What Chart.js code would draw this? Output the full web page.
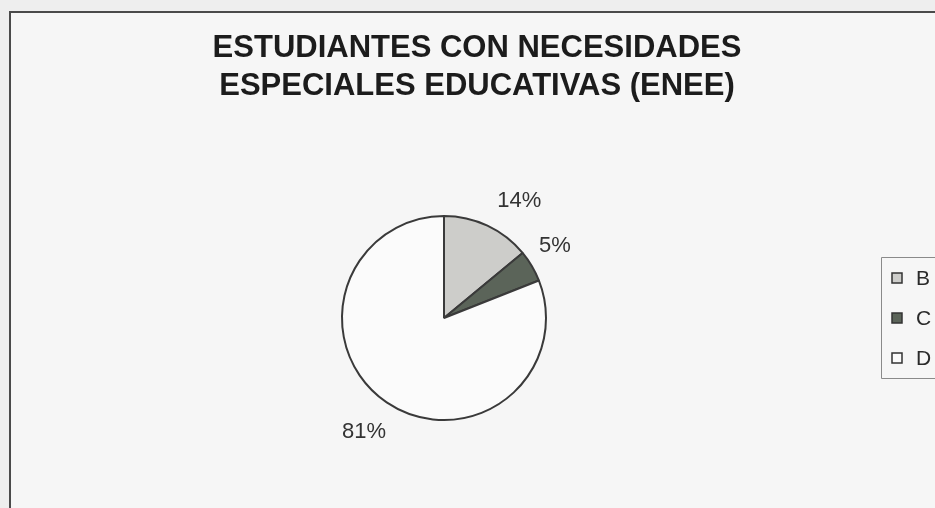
<!DOCTYPE html>
<html>
<head>
<meta charset="utf-8">
<script src="https://cdn.jsdelivr.net/npm/chart.js@4/dist/chart.umd.min.js"></script>
<style>
  html, body { margin: 0; padding: 0; background: #f3f3f3; }
  #wrap { width: 935px; height: 508px; }
</style>
</head>
<body>
<div id="wrap"><canvas id="c" width="935" height="508"></canvas></div>
<script>
const titleLines = ["ESTUDIANTES CON NECESIDADES", "ESPECIALES EDUCATIVAS (ENEE)"];
const categories = ["B", "C", "D"];
const values = [14, 5, 81];
const sliceColors = ["#cdcdca", "#5b6459", "#fbfbfb"];

const decor = {
  id: 'decor',
  beforeDraw(chart) {
    const ctx = chart.ctx;
    ctx.save();
    ctx.fillStyle = '#eeeeee';
    ctx.fillRect(0, 0, chart.width, chart.height);
    ctx.fillStyle = '#f6f6f6';
    ctx.fillRect(10, 12, chart.width - 10, chart.height - 12);
    ctx.strokeStyle = '#4a4a4a';
    ctx.lineWidth = 2;
    ctx.beginPath();
    ctx.moveTo(10, chart.height + 5);
    ctx.lineTo(10, 12);
    ctx.lineTo(chart.width + 5, 12);
    ctx.stroke();
    // title
    ctx.fillStyle = '#1c1c1c';
    ctx.font = 'bold 31px "Liberation Sans", Arial, sans-serif';
    ctx.textAlign = 'center';
    ctx.textBaseline = 'middle';
    ctx.fillText(titleLines[0], 477, 48);
    ctx.fillText(titleLines[1], 477, 86);
    ctx.restore();
  },
  afterDatasetsDraw(chart, args, opts) {
    const ctx = chart.ctx;
    const meta = chart.getDatasetMeta(0);
    const data = chart.data.datasets[0].data;
    const total = data.reduce((a, b) => a + b, 0);
    ctx.save();
    ctx.fillStyle = '#333333';
    ctx.font = '22px "Liberation Sans", Arial, sans-serif';
    ctx.textAlign = 'center';
    ctx.textBaseline = 'middle';
    meta.data.forEach((arc, i) => {
      const p = arc.getProps(['x', 'y', 'startAngle', 'endAngle', 'outerRadius'], true);
      const mid = (p.startAngle + p.endAngle) / 2;
      const d = p.outerRadius + 35;
      const nudge = opts.nudges[i] || {dx: 0, dy: 0};
      const lx = p.x + Math.cos(mid) * d + nudge.dx;
      const ly = p.y + Math.sin(mid) * d + nudge.dy;
      ctx.fillText(Math.round(data[i] / total * 100) + '%', lx, ly);
    });
    // legend
    const lx0 = 881, ly0 = 257, ly1 = 378;
    ctx.strokeStyle = '#8a8a8a';
    ctx.lineWidth = 1;
    ctx.beginPath();
    ctx.moveTo(chart.width + 5, ly0 + 0.5);
    ctx.lineTo(lx0 + 0.5, ly0 + 0.5);
    ctx.lineTo(lx0 + 0.5, ly1 + 0.5);
    ctx.lineTo(chart.width + 5, ly1 + 0.5);
    ctx.stroke();
    const rows = [278, 318, 358];
    ctx.font = '21px "Liberation Sans", Arial, sans-serif';
    ctx.textAlign = 'left';
    chart.data.labels.forEach((lab, i) => {
      const y = rows[i];
      ctx.fillStyle = chart.data.datasets[0].backgroundColor[i];
      ctx.fillRect(892, y - 5, 10, 10);
      ctx.strokeStyle = '#333';
      ctx.lineWidth = 1.5;
      ctx.strokeRect(892, y - 5, 10, 10);
      ctx.fillStyle = '#2a2a2a';
      ctx.fillText(lab, 916, y + 1);
    });
    ctx.restore();
  }
};

new Chart(document.getElementById('c'), {
  type: 'pie',
  data: {
    labels: categories,
    datasets: [{
      data: values,
      backgroundColor: sliceColors,
      borderColor: '#3a3a3a',
      borderWidth: 2
    }]
  },
  options: {
    responsive: false,
    animation: false,
    events: [],
    layout: { padding: { top: 215, bottom: 87, left: 341, right: 388 } },
    plugins: {
      legend: { display: false },
      tooltip: { enabled: false },
      title: { display: false },
      decor: { nudges: [{dx: 17, dy: 7}, {dx: -7, dy: -2}, {dx: -3, dy: 1}] }
    }
  },
  plugins: [decor]
});
</script>
</body>
</html>
